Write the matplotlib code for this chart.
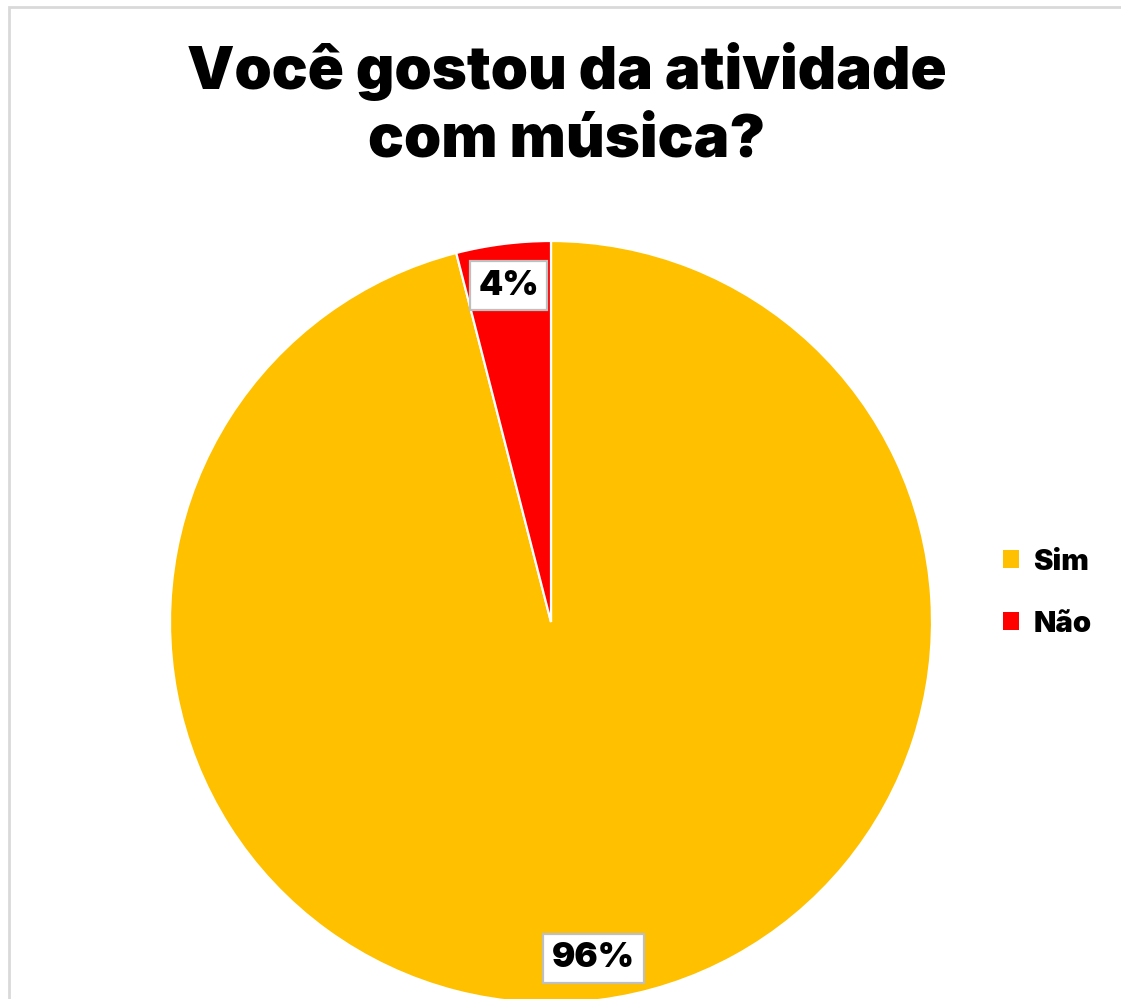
import matplotlib
matplotlib.use("Agg")
import matplotlib.pyplot as plt
from matplotlib.patches import Patch, Rectangle

categories = ["Sim", "Não"]
values = [96, 4]
colors = ["#FFC000", "#FF0000"]
title = "Você gostou da atividade\ncom música?"

W, H = 1121, 999
fig = plt.figure(figsize=(W / 100, H / 100), dpi=100)
fig.patch.set_facecolor("white")

font = ["Inter", "Liberation Sans", "DejaVu Sans"]

# light grey chart-area border (runs off the right and bottom edges)
fig.patches.append(Rectangle((8.5 / W, -0.05), 1.2, 1 - 6.5 / H + 0.05,
                             transform=fig.transFigure, fill=False,
                             edgecolor="#D9D9D9", linewidth=2.0))

cx, cy, r = 551, 622, 381
ax = fig.add_axes([(cx - r) / W, (H - cy - r) / H, 2 * r / W, 2 * r / H])
ax.set_xlim(-1, 1)
ax.set_ylim(-1, 1)
ax.set_aspect("equal")
ax.axis("off")

wedges, texts, autotexts = ax.pie(
    values, colors=colors, startangle=90, counterclock=False, radius=1,
    center=(0, 0), autopct="%.0f%%", pctdistance=0.89,
    wedgeprops=dict(edgecolor="white", linewidth=1.6),
    textprops=dict(fontsize=25, fontweight="black", family=font, color="black"),
    frame=False,
)
ax.set_xlim(-1, 1)
ax.set_ylim(-1, 1)
for t in autotexts:
    t.set_bbox(dict(boxstyle="square,pad=0.25", facecolor="white",
                    edgecolor="#BFBFBF", linewidth=1.6))

fig.text(567 / W, 1 - 105 / H, title, ha="center", va="center",
         fontsize=43, fontweight="black", family=font, linespacing=1.3)

handles = [Patch(facecolor=c, edgecolor="none") for c in colors]
fig.legend(handles, categories, loc="center left",
           bbox_to_anchor=(988 / W, 1 - 593 / H), frameon=False,
           prop=dict(size=21, weight="black", family=font),
           handlelength=0.55, handleheight=0.55, handletextpad=0.5,
           labelspacing=1.2, borderpad=0)

fig.savefig("out.png", dpi=100, facecolor="white")
